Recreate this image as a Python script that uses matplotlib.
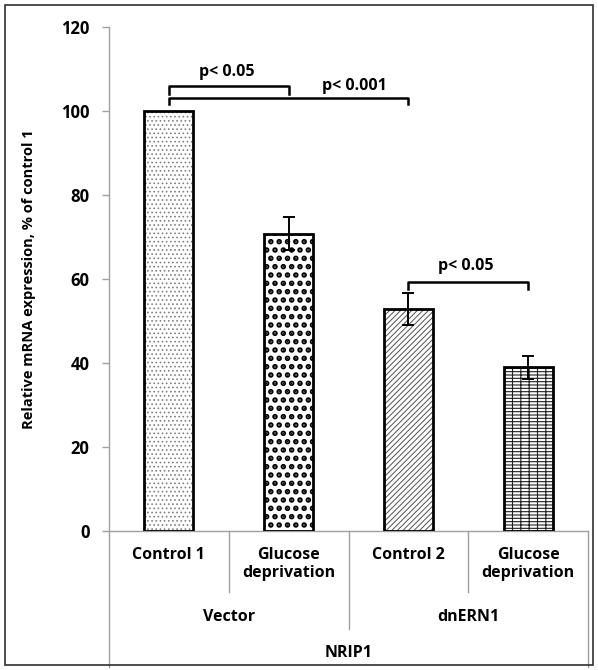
import matplotlib.pyplot as plt
import matplotlib.transforms as mtransforms
from matplotlib.patches import Rectangle
import numpy as np

plt.rcParams['font.family'] = ['Open Sans', 'DejaVu Sans']
plt.rcParams['font.weight'] = 'bold'
plt.rcParams['axes.labelweight'] = 'bold'

# data
conditions = ['Control 1', 'Glucose\ndeprivation', 'Control 2', 'Glucose\ndeprivation']
groups = ['Vector', 'dnERN1']
gene = 'NRIP1'
values = [100, 70.8, 52.8, 39.0]
errors = [0, 4.0, 3.8, 2.7]
hatches = ['....', '..', '//////', '-----||']
hatch_colors = ['#808080', 'black', '#505050', '#202020']
hatch_widths = [0.7, 2.7, 0.7, 0.8]
# significance brackets: (bar a, bar b, line height, drop, label)
brackets = [(0, 1, 106.0, 2.0, 'p< 0.05'),
            (0, 2, 103.1, 1.4, 'p< 0.001'),
            (2, 3, 59.3, 1.8, 'p< 0.05')]

fig = plt.figure(figsize=(5.98, 6.7), dpi=100)
ax = fig.add_axes([0.1823, 0.2075, 0.8010, 0.7522])

x = np.arange(len(values))
width = 0.41
for i in range(len(values)):
    with plt.rc_context({'hatch.linewidth': hatch_widths[i]}):
        ax.bar(x[i], values[i], width, color='white', edgecolor=hatch_colors[i],
               hatch=hatches[i], linewidth=0, zorder=2)
ax.bar(x, values, width, color='none', edgecolor='black', linewidth=2.0, zorder=3)
ax.errorbar(x[1:], values[1:], yerr=errors[1:], fmt='none', ecolor='black',
            elinewidth=1.4, capsize=4, capthick=1.4, zorder=4)

for a, b, h, d, label in brackets:
    ax.plot([x[a], x[a], x[b], x[b]], [h - d, h, h, h - d], color='black', lw=1.8,
            zorder=5, clip_on=False)
ax.text((x[0] + x[1]) / 2 - 0.02, 109.2, brackets[0][4], ha='center', va='center', fontsize=11.5)
ax.text(1.55, 105.9, brackets[1][4], ha='center', va='center', fontsize=11.5)
ax.text((x[2] + x[3]) / 2 - 0.02, 63.0, brackets[2][4], ha='center', va='center', fontsize=11.5)

ax.set_xlim(-0.5, 3.5)
ax.set_ylim(0, 120)
ax.set_yticks(range(0, 121, 20))
ax.tick_params(axis='y', length=5, width=1, color='#a0a0a0', labelsize=12, pad=9)
ax.set_xticks([])
for s in ['top', 'right']:
    ax.spines[s].set_visible(False)
for s in ['left', 'bottom']:
    ax.spines[s].set_color('#a0a0a0')
    ax.spines[s].set_linewidth(1)
ax.set_ylabel('Relative mRNA expression, % of control 1', fontsize=10.5)
ax.yaxis.set_label_coords(-0.152, 0.5)

# multi-level category axis
trans = mtransforms.blended_transform_factory(ax.transData, ax.transAxes)
line_kw = dict(color='#a0a0a0', lw=1, transform=trans, clip_on=False)
ax.plot([-0.5, -0.5], [0, -0.27], **line_kw)
ax.plot([3.5, 3.5], [0, -0.27], **line_kw)
ax.plot([0.5, 0.5], [0, -0.121], **line_kw)
ax.plot([2.5, 2.5], [0, -0.121], **line_kw)
ax.plot([1.5, 1.5], [0, -0.194], **line_kw)
for i, c in enumerate(conditions):
    ax.text(x[i], -0.031, c, ha='center', va='top', fontsize=11.5, linespacing=1.22,
            transform=trans)
for j, g in enumerate(groups):
    ax.text(2 * j + 0.5, -0.171, g, ha='center', va='center', fontsize=11.5, transform=trans)
ax.text(1.5, -0.242, gene, ha='center', va='center', fontsize=11.5, transform=trans)

fig.patches.append(Rectangle((0.008, 0.007), 0.984, 0.986, transform=fig.transFigure,
                             fill=False, edgecolor='#303030', lw=1.2))

fig.savefig('out.png', dpi=100)
